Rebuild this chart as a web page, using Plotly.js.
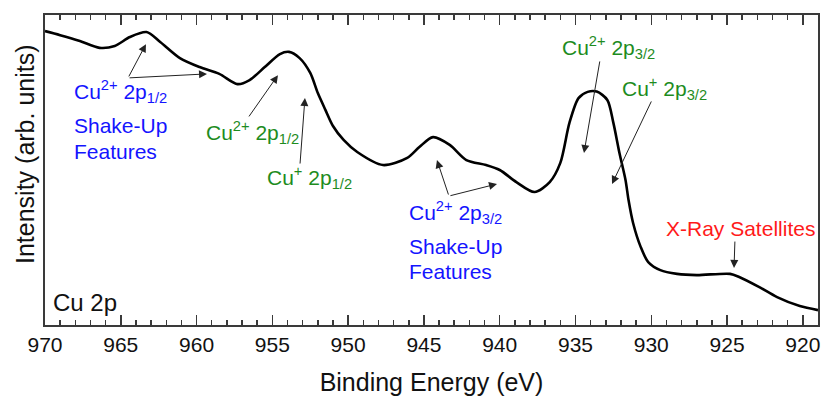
<!DOCTYPE html>
<html>
<head>
<meta charset="utf-8">
<script src="https://cdn.plot.ly/plotly-3.0.1.min.js"></script>
<style>html,body{margin:0;padding:0;background:#fff;}#chart{width:822px;height:396px;}</style>
</head>
<body>
<div id="chart"></div>
<script>
// Binding energy (eV) of the Cu 2p spectrum
const bindingEnergy = [970.0, 969.0, 967.7, 966.4, 965.4, 964.4, 963.3, 962.4, 961.1, 959.8,
  958.5, 957.3, 956.5, 955.5, 954.5, 953.9, 953.2, 952.5, 952.0, 951.5,
  951.0, 950.3, 949.4, 947.7, 946.1, 945.3, 944.4, 943.3, 942.2, 940.9,
  940.0, 938.9, 937.7, 936.7, 936.0, 935.4, 934.8, 934.2, 933.6, 932.9,
  932.5, 932.1, 931.7, 931.5, 931.2, 930.7, 930.2, 929.4, 928.3, 927.0,
  924.8, 924.2, 922.9, 921.7, 920.2, 919.0];
// Intensity (arb. units)
const intensity = [94.8, 93.5, 91.6, 89.4, 90.0, 92.9, 94.5, 91.3, 86.1, 83.2,
  81.0, 77.7, 79.0, 83.2, 87.4, 88.1, 86.1, 81.3, 74.8, 69.4,
  64.2, 59.7, 55.8, 51.6, 53.9, 57.4, 60.6, 58.1, 53.2, 51.6,
  50.0, 46.1, 42.9, 46.1, 52.3, 65.2, 73.2, 75.2, 75.3, 72.6,
  65.2, 55.5, 46.8, 40.3, 32.9, 25.2, 20.3, 17.7, 16.5, 16.1,
  16.5, 15.5, 12.3, 9.0, 6.1, 4.8];
const tickValues = [970, 965, 960, 955, 950, 945, 940, 935, 930, 925, 920];
const tickLabels = ["970", "965", "960", "955", "950", "945", "940", "935", "930", "925", "920"];

const FONT = "Liberation Sans, Arial, sans-serif";
const BLUE = "#1414ff", GREEN = "#1e8c1e", RED = "#ff1a1a", ARROW = "#222222";

function label(text, x, y, color, size, xanchor) {
  return {text: text, x: x, y: y, xref: "x", yref: "y", showarrow: false,
    xanchor: xanchor || "left", yanchor: "middle",
    font: {family: FONT, size: size || 21, color: color}};
}
function arrow(ax, ay, x, y) {
  return {text: "", x: x, y: y, ax: ax, ay: ay, xref: "x", yref: "y", axref: "x", ayref: "y",
    showarrow: true, arrowhead: 2, arrowsize: 1.6, arrowwidth: 1, arrowcolor: ARROW, standoff: 0, startstandoff: 0};
}

const annotations = [
  // Cu2+ 2p1/2 shake-up
  label("Cu<sup>2+</sup> 2p<sub>1/2</sub>", 968.2, 75.4, BLUE),
  label("Shake-Up", 968.2, 64.2, BLUE),
  label("Features", 968.2, 56.1, BLUE),
  arrow(964.52, 79.7, 963.34, 90.6),
  arrow(964.52, 79.7, 959.31, 81.0),
  // Cu2+ 2p1/2
  label("Cu<sup>2+</sup> 2p<sub>1/2</sub>", 959.5, 62.0, GREEN),
  arrow(956.61, 66.8, 954.63, 80.6),
  // Cu+ 2p1/2
  label("Cu<sup>+</sup> 2p<sub>1/2</sub>", 955.5, 47.5, GREEN),
  arrow(953.18, 51.6, 952.85, 73.2),
  // Cu2+ 2p3/2 shake-up
  label("Cu<sup>2+</sup> 2p<sub>3/2</sub>", 946.1, 36.4, BLUE),
  label("Shake-Up", 946.1, 25.2, BLUE),
  label("Features", 946.1, 17.1, BLUE),
  arrow(943.35, 41.6, 944.14, 53.2),
  arrow(943.35, 41.6, 940.18, 45.5),
  // Cu2+ 2p3/2
  label("Cu<sup>2+</sup> 2p<sub>3/2</sub>", 936.0, 89.4, GREEN),
  arrow(933.38, 85.5, 934.44, 55.5),
  // Cu+ 2p3/2
  label("Cu<sup>+</sup> 2p<sub>3/2</sub>", 932.05, 76.2, GREEN),
  arrow(929.95, 72.6, 932.59, 45.5),
  // X-ray satellites
  label("X-Ray Satellites", 929.15, 31.0, RED),
  arrow(924.48, 27.4, 924.54, 18.4),
  // panel label
  label("Cu 2p", 969.6, 7.4, "#111111", 24),
  // y-axis title
  {text: "Intensity (arb. units)", xref: "paper", yref: "paper", x: -0.0259, y: 0.5516,
   textangle: -90, showarrow: false, xanchor: "center", yanchor: "middle",
   font: {family: FONT, size: 25, color: "#111111"}}
];

const trace = {
  x: bindingEnergy, y: intensity, type: "scatter", mode: "lines",
  line: {color: "#000000", width: 2.6, shape: "spline", smoothing: 0.8},
  hoverinfo: "skip"
};

const layout = {
  width: 822, height: 396,
  margin: {l: 45, r: 4, t: 15, b: 71},
  paper_bgcolor: "#ffffff", plot_bgcolor: "#ffffff",
  showlegend: false,
  font: {family: FONT, color: "#111111"},
  xaxis: {
    range: [970, 919], tickmode: "array", tickvals: tickValues, ticktext: tickLabels,
    ticks: "inside", ticklen: 10, tickwidth: 1.5, tickcolor: "#3a3a3a",
    minor: {dtick: 1, tick0: 920, ticks: "inside", ticklen: 5, tickwidth: 1.5, tickcolor: "#3a3a3a", showgrid: false},
    showline: true, linecolor: "#3a3a3a", linewidth: 2, mirror: "ticks",
    showgrid: false, zeroline: false,
    tickfont: {family: FONT, size: 21, color: "#111111"},
    title: {text: "Binding Energy (eV)", font: {family: FONT, size: 25, color: "#111111"}, standoff: 19}
  },
  yaxis: {
    range: [0, 100], showticklabels: false, ticks: "",
    showline: true, linecolor: "#3a3a3a", linewidth: 2, mirror: true,
    showgrid: false, zeroline: false
  },
  annotations: annotations
};

Plotly.newPlot("chart", [trace], layout, {staticPlot: true, displayModeBar: false});
</script>
</body>
</html>
